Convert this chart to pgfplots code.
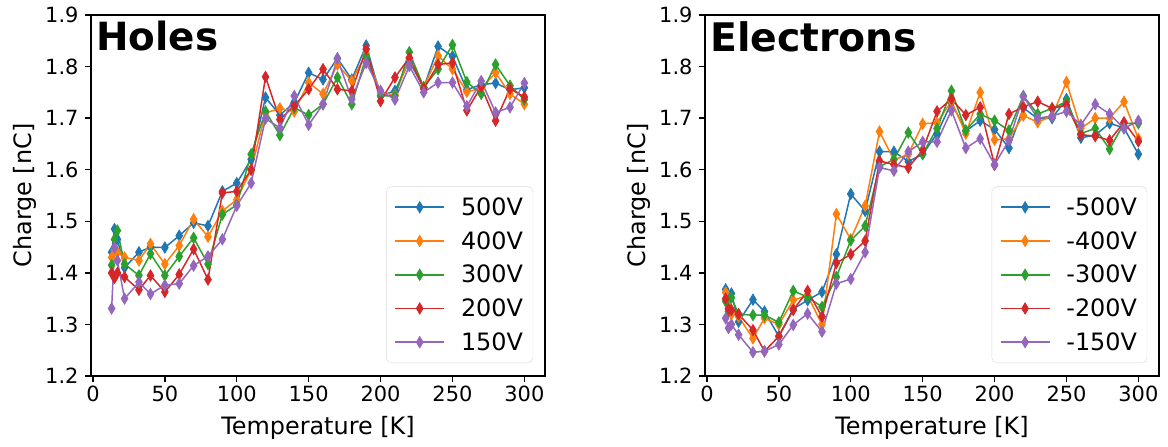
\documentclass[border=0pt]{standalone}
\usepackage{fontspec}
\setmainfont{DejaVu Sans}
\usepackage{pgfplots}
\pgfplotsset{compat=1.18}
\usepackage{pgfplotstable}

\definecolor{c1}{HTML}{1F77B4}
\definecolor{c2}{HTML}{FF7F0E}
\definecolor{c3}{HTML}{2CA02C}
\definecolor{c4}{HTML}{D62728}
\definecolor{c5}{HTML}{9467BD}

\pgfplotstableread{
T   a     b     c     d     e
13  1.440 1.430 1.415 1.400 1.331
15  1.485 1.445 1.465 1.390 1.449
17  1.465 1.440 1.482 1.400 1.424
22  1.410 1.430 1.417 1.392 1.350
32  1.440 1.424 1.395 1.367 1.382
40  1.450 1.456 1.437 1.395 1.359
50  1.449 1.417 1.395 1.363 1.376
60  1.472 1.453 1.432 1.397 1.379
70  1.497 1.504 1.468 1.446 1.414
80  1.491 1.470 1.417 1.387 1.432
90  1.558 1.520 1.513 1.555 1.465
100 1.574 1.542 1.532 1.558 1.530
110 1.620 1.600 1.630 1.600 1.574
120 1.740 1.710 1.713 1.780 1.699
130 1.706 1.719 1.667 1.697 1.681
140 1.730 1.713 1.720 1.724 1.743
150 1.788 1.769 1.706 1.756 1.687
160 1.775 1.747 1.727 1.795 1.727
170 1.816 1.804 1.779 1.756 1.815
180 1.775 1.772 1.727 1.753 1.737
190 1.841 1.825 1.820 1.834 1.807
200 1.743 1.750 1.743 1.733 1.753
210 1.753 1.745 1.743 1.779 1.736
220 1.810 1.815 1.828 1.817 1.801
230 1.759 1.760 1.760 1.757 1.750
240 1.839 1.821 1.795 1.804 1.769
250 1.820 1.795 1.842 1.807 1.769
260 1.755 1.751 1.770 1.715 1.723
270 1.765 1.758 1.747 1.761 1.772
280 1.768 1.788 1.804 1.695 1.711
290 1.755 1.747 1.763 1.757 1.721
300 1.759 1.727 1.736 1.741 1.768
}\holes

\pgfplotstableread{
T   a     b     c     d     e
13  1.368 1.362 1.345 1.350 1.312
15  1.345 1.335 1.325 1.330 1.293
17  1.360 1.320 1.352 1.328 1.300
22  1.305 1.315 1.320 1.320 1.280
32  1.348 1.273 1.318 1.289 1.246
40  1.325 1.312 1.318 1.248 1.248
50  1.277 1.300 1.304 1.277 1.261
60  1.330 1.347 1.365 1.328 1.299
70  1.347 1.356 1.353 1.365 1.321
80  1.363 1.300 1.334 1.315 1.286
90  1.436 1.514 1.392 1.419 1.379
100 1.553 1.465 1.463 1.436 1.388
110 1.520 1.530 1.491 1.462 1.440
120 1.635 1.674 1.606 1.617 1.604
130 1.635 1.619 1.620 1.610 1.598
140 1.616 1.630 1.672 1.604 1.635
150 1.630 1.689 1.631 1.638 1.654
160 1.670 1.691 1.680 1.713 1.654
170 1.730 1.733 1.753 1.737 1.715
180 1.675 1.670 1.676 1.706 1.642
190 1.695 1.750 1.708 1.721 1.660
200 1.678 1.658 1.695 1.609 1.610
210 1.642 1.660 1.676 1.708 1.657
220 1.720 1.705 1.743 1.722 1.742
230 1.699 1.692 1.708 1.732 1.700
240 1.700 1.704 1.719 1.719 1.704
250 1.737 1.770 1.732 1.725 1.713
260 1.662 1.680 1.670 1.668 1.687
270 1.667 1.700 1.680 1.665 1.727
280 1.690 1.700 1.640 1.657 1.708
290 1.681 1.732 1.690 1.692 1.680
300 1.630 1.660 1.690 1.655 1.695
}\electrons

\pgfplotsset{
  panel/.style={
    scale only axis, width=454bp, height=361bp,
    xmin=-1.35, xmax=314.35, ymin=1.2, ymax=1.9,
    xtick={0,50,100,150,200,250,300},
    ytick={1.2,1.3,1.4,1.5,1.6,1.7,1.8,1.9},
    yticklabel style={xshift=-3bp, /pgf/number format/.cd, fixed, fixed zerofill, precision=1},
    /pgf/number format/assume math mode=true,
    tick align=outside, xtick pos=left, ytick pos=left,
    major tick length=6bp,
    major tick style={line width=1.4bp, black},
    axis line style={line width=1.8bp, black},
    tick label style={font=\fontsize{21}{25}\selectfont},
    label style={font=\fontsize{24}{28}\selectfont},
    xlabel={Temperature [K]}, ylabel={Charge [nC]},
    xlabel shift=8bp, ylabel shift=2bp,
    legend style={at={(0.974,0.036)}, anchor=south east, draw=black!15,
      rounded corners=5bp, font=\fontsize{24}{28}\selectfont,
      inner xsep=8bp, inner ysep=9bp, row sep=10.5bp, cells={anchor=west},
      /tikz/every odd column/.append style={column sep=14bp}},
    legend image code/.code={\draw[mark repeat=2,mark phase=2,#1,line width=1.6bp] plot coordinates {(0bp,0bp) (24.5bp,0bp) (49bp,0bp)};},
    every axis plot/.append style={line width=1.5bp, mark=diamond*, mark size=5.6bp, mark options={solid, xscale=0.8, line width=0.8bp}},
  }
}

\begin{document}
\begin{tikzpicture}
\useasboundingbox (0,0) rectangle (1168bp,447bp);
\begin{axis}[panel, at={(91bp,71bp)}, anchor=south west]
\addplot[c1] table[x=T,y=a] {\holes};
\addlegendentry{500V}
\addplot[c2] table[x=T,y=b] {\holes};
\addlegendentry{400V}
\addplot[c3] table[x=T,y=c] {\holes};
\addlegendentry{300V}
\addplot[c4] table[x=T,y=d] {\holes};
\addlegendentry{200V}
\addplot[c5] table[x=T,y=e] {\holes};
\addlegendentry{150V}
\node[anchor=north west, inner sep=0pt, font=\fontsize{39}{46}\selectfont\bfseries, xshift=5bp, yshift=-6bp] at (rel axis cs:0,1) {Holes};
\end{axis}
\begin{axis}[panel, at={(705bp,71bp)}, anchor=south west]
\addplot[c1] table[x=T,y=a] {\electrons};
\addlegendentry{-500V}
\addplot[c2] table[x=T,y=b] {\electrons};
\addlegendentry{-400V}
\addplot[c3] table[x=T,y=c] {\electrons};
\addlegendentry{-300V}
\addplot[c4] table[x=T,y=d] {\electrons};
\addlegendentry{-200V}
\addplot[c5] table[x=T,y=e] {\electrons};
\addlegendentry{-150V}
\node[anchor=north west, inner sep=0pt, font=\fontsize{39.5}{46}\selectfont\bfseries, xshift=5bp, yshift=-6bp] at (rel axis cs:0,1) {Electrons};
\end{axis}
\end{tikzpicture}
\end{document}
